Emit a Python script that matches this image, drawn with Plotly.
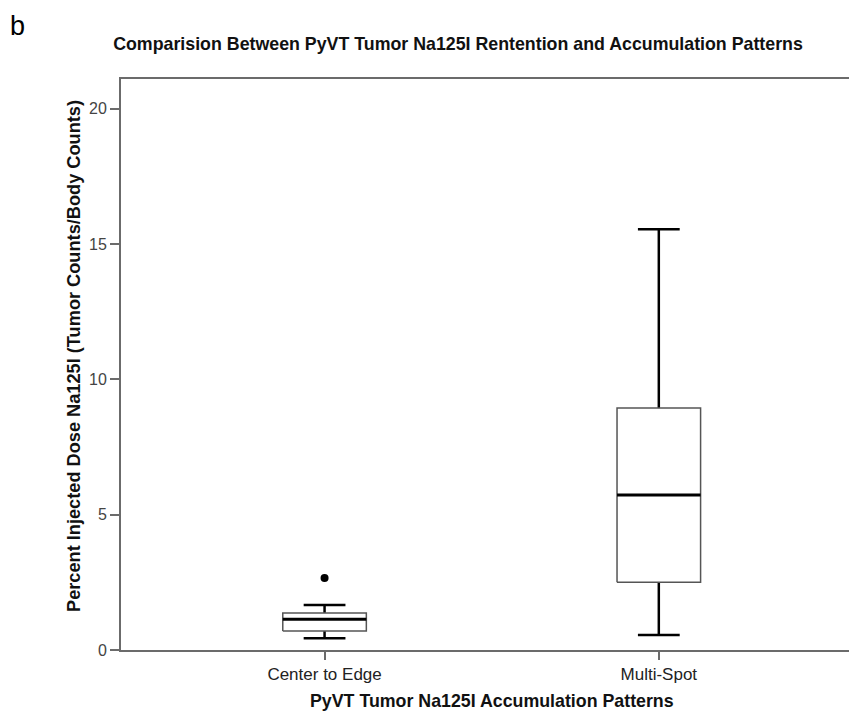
import plotly.graph_objects as go

# Box-plot summary statistics per accumulation pattern
categories = ["Center to Edge", "Multi-Spot"]
q1 = [0.70, 2.50]
medians = [1.14, 5.73]
q3 = [1.37, 8.94]
whisker_low = [0.43, 0.55]
whisker_high = [1.66, 15.55]

# Outlying observations
outlier_cats = ["Center to Edge"]
outlier_vals = [2.66]

y_ticks = [0, 5, 10, 15, 20]

BOX_HALF = 0.125
CAP_HALF = 0.0625

BOLD = "Liberation Sans, Arial, sans-serif"
REGULAR = "Liberation Sans, Arial, sans-serif"

pos = {c: i for i, c in enumerate(categories)}

box_x, box_y = [], []
wh_x, wh_y = [], []
med_x, med_y = [], []
for c, a, m, b, lo, hi in zip(categories, q1, medians, q3, whisker_low, whisker_high):
    x = pos[c]
    box_x += [x - BOX_HALF, x + BOX_HALF, x + BOX_HALF, x - BOX_HALF, x - BOX_HALF, None]
    box_y += [a, a, b, b, a, None]
    wh_x += [x, x, None, x - CAP_HALF, x + CAP_HALF, None,
             x, x, None, x - CAP_HALF, x + CAP_HALF, None]
    wh_y += [b, hi, None, hi, hi, None,
             a, lo, None, lo, lo, None]
    med_x += [x - BOX_HALF, x + BOX_HALF, None]
    med_y += [m, m, None]

fig = go.Figure()
fig.add_trace(go.Scatter(x=wh_x, y=wh_y, mode="lines",
                         line=dict(color="black", width=2.5), hoverinfo="skip"))
fig.add_trace(go.Scatter(x=box_x, y=box_y, mode="lines",
                         line=dict(color="#555555", width=1.5), hoverinfo="skip"))
fig.add_trace(go.Scatter(x=med_x, y=med_y, mode="lines",
                         line=dict(color="black", width=3), hoverinfo="skip"))
fig.add_trace(go.Scatter(x=[pos[c] for c in outlier_cats], y=outlier_vals, mode="markers",
                         marker=dict(color="black", size=8), hoverinfo="skip"))

W, H = 849, 711
L, R, T, B = 121, 0, 79, 61
pw, ph = W - L - R, H - T - B


def px_x(px):
    return (px - L) / pw


def px_y(py):
    return (H - B - py) / ph


label_font = dict(family=BOLD, size=17.8, color="#111111", weight="bold")

fig.update_layout(
    width=W, height=H,
    margin=dict(l=L, r=R, t=T, b=B),
    paper_bgcolor="white", plot_bgcolor="white",
    showlegend=False,
    title=dict(
        text="Comparision Between PyVT Tumor Na125I Rentention and Accumulation Patterns",
        x=458 / W, xanchor="center", xref="container",
        y=1 - 44 / H, yanchor="middle", yref="container",
        font=label_font,
    ),
    xaxis=dict(
        range=[-0.609, 1.569],
        tickvals=[pos[c] for c in categories], ticktext=categories,
        showgrid=False, zeroline=False,
        showline=True, linecolor="#6b6b6b", linewidth=2, mirror=True,
        ticks="outside", ticklen=8, tickwidth=2, tickcolor="#6b6b6b",
        tickfont=dict(family=REGULAR, size=17, color="#222222"),
    ),
    yaxis=dict(
        range=[0, 21.1],
        tickvals=y_ticks,
        showgrid=False, zeroline=False,
        showline=True, linecolor="#6b6b6b", linewidth=2,
        ticks="outside", ticklen=9, tickwidth=1.5, tickcolor="#6b6b6b",
        tickfont=dict(family=REGULAR, size=16, color="#444444"),
    ),
    annotations=[
        dict(text="b", xref="paper", yref="paper", x=px_x(8), y=px_y(26),
             xanchor="left", yanchor="middle", showarrow=False,
             font=dict(family=REGULAR, size=27, color="black")),
        dict(text="Percent Injected Dose Na125I (Tumor Counts/Body Counts)",
             xref="paper", yref="paper", x=px_x(74), y=px_y(356),
             xanchor="center", yanchor="middle", textangle=-90, showarrow=False,
             font=dict(label_font, size=18.2)),
        dict(text="PyVT Tumor Na125I Accumulation Patterns",
             xref="paper", yref="paper", x=px_x(492), y=px_y(701),
             xanchor="center", yanchor="middle", showarrow=False,
             font=label_font),
    ],
)

fig.write_html("out.html")
